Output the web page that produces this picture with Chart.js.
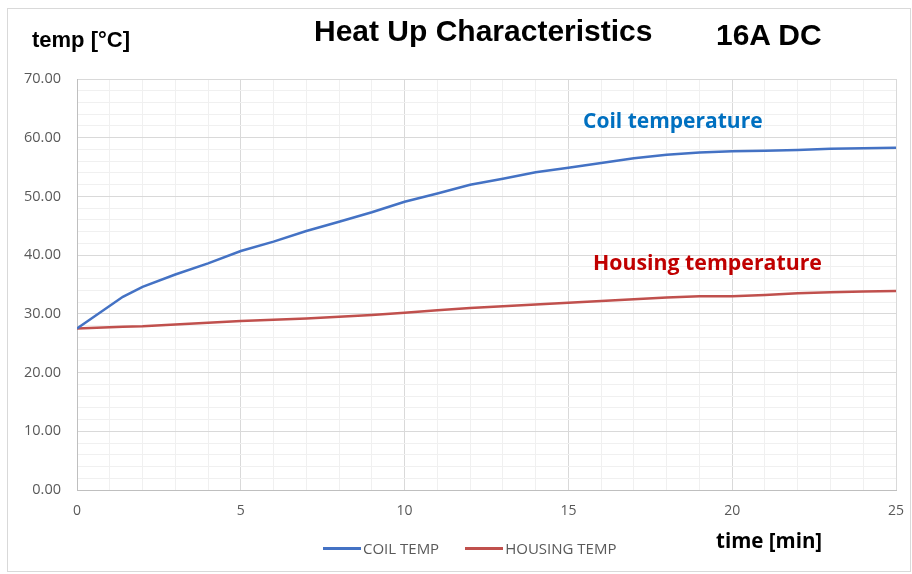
<!DOCTYPE html>
<html>
<head>
<meta charset="utf-8">
<script src="https://cdn.jsdelivr.net/npm/chart.js@4/dist/chart.umd.min.js"></script>
<style>
  html, body { margin: 0; padding: 0; background: #fff; }
  #wrap { position: relative; width: 912px; height: 574px; overflow: hidden; }
  #frame { position: absolute; left: 7px; top: 8px; width: 902px; height: 562px; border: 1px solid #d9d9d9; }
  canvas { position: absolute; left: 0; top: 0; }
  .txt { position: absolute; white-space: nowrap; }
  #title { left: 314px; top: 14px; font: bold 30px "Liberation Sans", Arial, sans-serif; color: #000; }
  #sub { left: 716px; top: 18px; font: bold 30px "Liberation Sans", Arial, sans-serif; color: #000; }
  #ylab { left: 32px; top: 27px; font: bold 22px "Liberation Sans", Arial, sans-serif; color: #000; }
  #xlab { left: 716px; top: 526px; font: bold 20.5px "Open Sans", sans-serif; color: #000; }
  #coil { left: 583px; top: 106px; font: bold 21px "Open Sans", sans-serif; color: #0070c0; }
  #hous { left: 593px; top: 247px; font: bold 21.3px "Open Sans", sans-serif; color: #c00000; }
  #legend { left: 323px; top: 538px; font: 15px "Open Sans", sans-serif; color: #595959; display: flex; align-items: center; }
  #legend span.ln { display: inline-block; width: 38px; height: 3px; margin-right: 2px; }
</style>
</head>
<body>
<div id="wrap">
  <div id="frame"></div>
  <canvas id="chart" width="912" height="574"></canvas>
  <div class="txt" id="title">Heat Up Characteristics</div>
  <div class="txt" id="sub">16A DC</div>
  <div class="txt" id="ylab">temp [°C]</div>
  <div class="txt" id="xlab">time [min]</div>
  <div class="txt" id="coil">Coil temperature</div>
  <div class="txt" id="hous">Housing temperature</div>
  <div class="txt" id="legend">
    <span class="ln" style="background:#4472c4"></span><span style="margin-right:26px">COIL TEMP</span>
    <span class="ln" style="background:#c0504d"></span><span>HOUSING TEMP</span>
  </div>
</div>
<script>
// time [min]
const times = [0, 1.4, 2, 3, 4, 5, 6, 7, 8, 9, 10, 11, 12, 13, 14, 15, 16, 17, 18, 19, 20, 21, 22, 23, 24, 25];
const coilTemp = [27.5, 32.9, 34.6, 36.7, 38.6, 40.7, 42.3, 44.1, 45.7, 47.3, 49.1, 50.5, 52.0, 53.0, 54.1, 54.9, 55.7, 56.5, 57.1, 57.5, 57.7, 57.8, 57.9, 58.1, 58.2, 58.3];
const housingTemp = [27.5, 27.8, 27.9, 28.2, 28.5, 28.8, 29.0, 29.2, 29.5, 29.8, 30.2, 30.6, 31.0, 31.3, 31.6, 31.9, 32.2, 32.5, 32.8, 33.0, 33.0, 33.2, 33.5, 33.7, 33.8, 33.9];

function toPoints(ys) {
    return times.map((t, i) => ({ x: t, y: ys[i] }));
}

function gridColor(ctx, major) {
    const v = ctx.tick ? ctx.tick.value : 0;
    return (Math.abs(v % major) < 1e-6) ? '#d9d9d9' : '#f0f0f0';
}

let ctx = document.getElementById('chart').getContext('2d');
new Chart(ctx, {
    type: 'line',
    data: {
        datasets: [{
            label: 'COIL TEMP',
            data: toPoints(coilTemp),
            borderColor: '#4472c4',
            borderWidth: 2.5,
            pointRadius: 0,
            tension: 0
        }, {
            label: 'HOUSING TEMP',
            data: toPoints(housingTemp),
            borderColor: '#c0504d',
            borderWidth: 2.5,
            pointRadius: 0,
            tension: 0
        }]
    },
    options: {
        responsive: false,
        animation: false,
        layout: { padding: { left: 0, top: 79, right: 16, bottom: 0 } },
        plugins: { legend: { display: false }, tooltip: { enabled: false } },
        scales: {
            x: {
                type: 'linear',
                min: 0, max: 25,
                ticks: {
                    stepSize: 1,
                    autoSkip: false,
                    maxRotation: 0,
                    padding: 13,
                    color: '#595959',
                    font: { family: 'Open Sans', size: 14 },
                    callback: v => (v % 5 === 0 ? String(v) : '')
                },
                grid: {
                    color: c => gridColor(c, 5),
                    drawTicks: false
                },
                border: { color: '#bfbfbf', width: 1 },
                afterFit: s => { s.height = 84; s.paddingLeft = 0; s.paddingRight = 0; }
            },
            y: {
                min: 0, max: 70,
                ticks: {
                    stepSize: 2,
                    autoSkip: false,
                    padding: 16,
                    color: '#595959',
                    font: { family: 'Open Sans', size: 14.5 },
                    callback: v => (v % 10 === 0 ? v.toFixed(2) : '')
                },
                grid: {
                    color: c => gridColor(c, 10),
                    drawTicks: false
                },
                border: { color: '#bfbfbf', width: 1 },
                afterFit: s => { s.width = 77; s.paddingTop = 0; s.paddingBottom = 0; }
            }
        }
    }
});
</script>
</body>
</html>
